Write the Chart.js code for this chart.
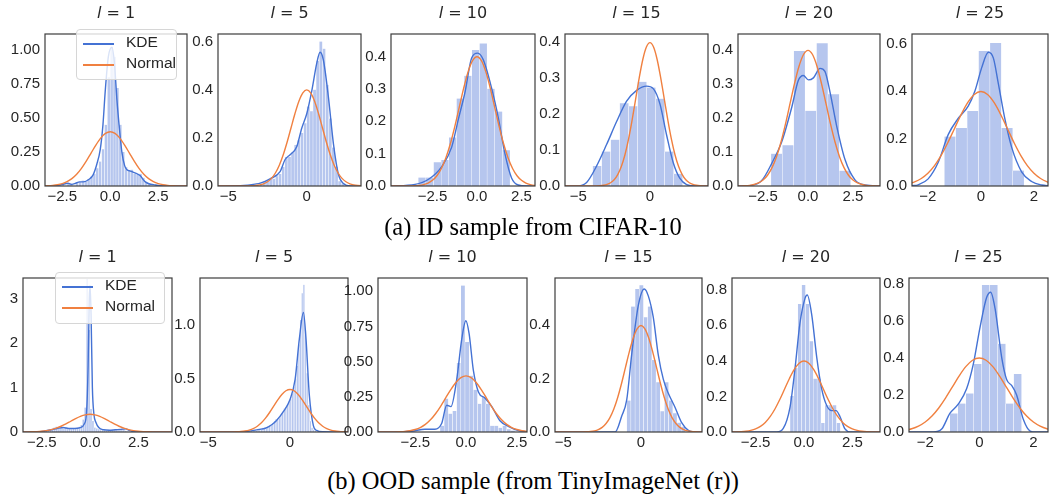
<!DOCTYPE html>
<html>
<head>
<meta charset="utf-8">
<script src="https://cdn.jsdelivr.net/npm/chart.js@4.4.1/dist/chart.umd.min.js"></script>
<style>
  body { margin: 0; background: #fff; }
  #page { position: relative; width: 1049px; height: 495px; overflow: hidden; }
  canvas { position: absolute; }
  .title { position: absolute; font: 16px 'DejaVu Sans', sans-serif; color: #262626; transform: translateX(-50%); white-space: nowrap; }
  .caption { position: absolute; left: 533px; transform: translateX(-50%); white-space: nowrap; font: 24.5px 'Liberation Serif', 'Times New Roman', serif; color: #000; }
  .legend { position: absolute; background: rgba(255,255,255,0.8); border: 1px solid #d6d6d6; border-radius: 4px; font: 15.5px 'Liberation Sans', Arial, sans-serif; color: #262626; }
  .legend div { position: absolute; white-space: nowrap; }
  .legend span { position: absolute; height: 1.5px; width: 31px; }
</style>
</head>
<body>
<div id="page"></div>
<script>
// ---- data ----
const layers = [1, 5, 10, 15, 20, 25];

// standard normal density (the orange curve in every panel)
const normalX = [-6, -5, -4, -3.5, -3.25, -3, -2.75, -2.5, -2.25, -2, -1.75, -1.5, -1.25, -1, -0.75, -0.5, -0.25, 0,
                 0.25, 0.5, 0.75, 1, 1.25, 1.5, 1.75, 2, 2.25, 2.5, 2.75, 3, 3.25, 3.5, 4, 5, 6];
const normalY = [0, 0, 0.0001, 0.0009, 0.002, 0.0044, 0.0091, 0.0175, 0.0317, 0.054, 0.0863, 0.1295, 0.1826, 0.242, 0.3011, 0.3521, 0.3867, 0.3989,
                 0.3867, 0.3521, 0.3011, 0.242, 0.1826, 0.1295, 0.0863, 0.054, 0.0317, 0.0175, 0.0091, 0.0044, 0.002, 0.0009, 0.0001, 0, 0];

// (a) ID sample from CIFAR-10 : histogram = [first edge, bin width], heights ; KDE = [x, y] points
const id1Bins = [-2.7, 0.15];
const id1Hist = [0.01, 0.02, 0.0, 0.02, 0.01, 0.0, 0.03, 0.03, 0.04, 0.03, 0.05, 0.07, 0.09, 0.13, 0.18, 0.27,
                 0.45, 0.80, 1.02, 0.95, 0.72, 0.45, 0.25, 0.14, 0.11, 0.12, 0.09, 0.08, 0.09, 0.06, 0.03, 0.02];
const id1Kde = [[-3.4, 0], [-2.8, 0.003], [-2.5, 0.012], [-2.2, 0.02], [-2.0, 0.012], [-1.8, 0.02], [-1.6, 0.03], [-1.41, 0.03],
                [-1.1, 0.05], [-0.9, 0.08], [-0.7, 0.16], [-0.52, 0.27], [-0.38, 0.45], [-0.26, 0.70], [-0.1, 0.95], [0.09, 1.02],
                [0.22, 0.9], [0.35, 0.63], [0.48, 0.42], [0.61, 0.245], [0.75, 0.15], [0.87, 0.12], [1.05, 0.11], [1.22, 0.10],
                [1.4, 0.09], [1.57, 0.075], [1.7, 0.05], [1.83, 0.03], [2.05, 0.015], [2.25, 0.01], [2.6, 0.002], [4.0, 0]];

const id5Bins = [-3.2, 0.2];
const id5Hist = [0.0, 0.01, 0.02, 0.02, 0.03, 0.03, 0.04, 0.05, 0.08, 0.12, 0.12, 0.14, 0.17, 0.19, 0.22, 0.26,
                 0.33, 0.31, 0.40, 0.52, 0.60, 0.57, 0.42, 0.28, 0.16, 0.08, 0.02, 0.01];
const id5Kde = [[-5.7, 0], [-4, 0.002], [-3.3, 0.008], [-2.97, 0.012], [-2.34, 0.03], [-1.7, 0.06], [-1.38, 0.11], [-1.06, 0.13],
                [-0.64, 0.163], [-0.32, 0.24], [0, 0.30], [0.32, 0.395], [0.64, 0.51], [0.85, 0.555], [1.06, 0.523], [1.38, 0.37],
                [1.70, 0.176], [2.02, 0.048], [2.34, 0.01], [2.8, 0], [3.5, 0]];

const id10Bins = [-3.3, 0.43];
const id10Hist = [0.026, 0.026, 0.073, 0.08, 0.15, 0.27, 0.34, 0.42, 0.44, 0.30, 0.23, 0.11];
const id10Kde = [[-4.85, 0], [-3.48, 0.005], [-2.74, 0.02], [-1.98, 0.06], [-1.42, 0.12], [-1.05, 0.205], [-0.67, 0.29],
                 [-0.30, 0.395], [0.04, 0.41], [0.35, 0.39], [0.83, 0.30], [1.20, 0.21], [1.57, 0.10], [1.95, 0.024],
                 [2.32, 0.003], [2.8, 0], [3.3, 0]];

const id15Bins = [-4.0, 0.628];
const id15Hist = [0.056, 0.096, 0.129, 0.23, 0.222, 0.29, 0.274, 0.243, 0.096, 0.034];
const id15Kde = [[-6, 0], [-5.12, 0], [-4.42, 0.01], [-3.72, 0.056], [-3.02, 0.116], [-2.32, 0.18], [-1.63, 0.236],
                 [-0.93, 0.266], [-0.23, 0.278], [0.23, 0.271], [0.70, 0.228], [1.16, 0.142], [1.63, 0.064],
                 [2.09, 0.021], [2.56, 0.004], [3.2, 0], [4.1, 0]];

const id20Bins = [-2.06, 0.633];
const id20Hist = [0.095, 0.12, 0.397, 0.221, 0.42, 0.27, 0.045];
const id20Kde = [[-3.9, 0], [-3.13, 0.002], [-2.57, 0.016], [-2.02, 0.066], [-1.46, 0.13], [-0.91, 0.23], [-0.54, 0.31],
                 [-0.26, 0.325], [0.02, 0.312], [0.3, 0.318], [0.67, 0.346], [0.94, 0.337], [1.22, 0.277], [1.59, 0.177],
                 [2.06, 0.077], [2.61, 0.018], [3.17, 0.003], [4.0, 0]];

const id25Bins = [-1.38, 0.43];
const id25Hist = [0.209, 0.245, 0.317, 0.57, 0.604, 0.245, 0.065];
const id25Kde = [[-2.6, 0.001], [-2.37, 0.005], [-1.99, 0.03], [-1.61, 0.1], [-1.23, 0.218], [-0.86, 0.285], [-0.48, 0.337],
                 [-0.23, 0.40], [0.03, 0.50], [0.28, 0.565], [0.47, 0.54], [0.65, 0.437], [0.91, 0.28], [1.16, 0.163],
                 [1.54, 0.059], [1.91, 0.019], [2.29, 0.004], [2.6, 0.001]];

// (b) OOD sample (from TinyImageNet (r))
const ood1Bins = [-2.6, 0.1];
const ood1Hist = [0.02, 0.0, 0.02, 0.04, 0.02, 0.05, 0.08, 0.10, 0.12, 0.10, 0.09, 0.11, 0.08, 0.10, 0.07, 0.08, 0.06, 0.09, 0.07,
                  0.10, 0.12, 0.16, 0.28, 0.55, 3.45, 2.30, 0.52, 0.25, 0.10, 0.08, 0.06, 0.04, 0.05, 0.04, 0.03, 0.05, 0.04,
                  0.05, 0.04, 0.06, 0.05, 0.07, 0.08, 0.06, 0.03, 0.01];
const ood1Kde = [[-3.5, 0], [-2.8, 0.005], [-2.4, 0.02], [-2.0, 0.05], [-1.7, 0.08], [-1.4, 0.1], [-1.1, 0.08], [-0.8, 0.08],
                 [-0.5, 0.1], [-0.3, 0.18], [-0.18, 0.45], [-0.1, 1.5], [-0.04, 3.0], [0.0, 3.3], [0.05, 2.7], [0.12, 1.0],
                 [0.2, 0.4], [0.3, 0.22], [0.45, 0.1], [0.7, 0.05], [1.0, 0.04], [1.3, 0.05], [1.6, 0.06], [1.85, 0.07],
                 [2.05, 0.03], [2.3, 0.005], [2.8, 0], [4.3, 0]];

const ood5Bins = [-2.5, 0.1];
const ood5Hist = [0.01, 0.01, 0.02, 0.02, 0.01, 0.03, 0.03, 0.02, 0.04, 0.04, 0.03, 0.05, 0.06, 0.06, 0.08, 0.10, 0.12, 0.11,
                  0.13, 0.16, 0.19, 0.22, 0.23, 0.26, 0.28, 0.31, 0.36, 0.42, 0.50, 0.62, 0.82, 1.05, 1.30, 1.38, 0.95, 0.55,
                  0.25, 0.10, 0.04, 0.02, 0.01, 0.0, 0.01];
const ood5Kde = [[-5.6, 0], [-3.2, 0], [-2.65, 0.005], [-2.04, 0.02], [-1.43, 0.04], [-1.1, 0.07], [-0.81, 0.11], [-0.41, 0.19],
                 [0, 0.305], [0.31, 0.49], [0.57, 0.87], [0.82, 1.12], [0.98, 0.87], [1.18, 0.35], [1.43, 0.06], [1.63, 0.015],
                 [2.0, 0.002], [3.6, 0]];

const ood10Bins = [-1.28, 0.205];
const ood10Hist = [0.044, 0.237, 0.13, 0.15, 0.49, 1.04, 0.64, 0.40, 0.30, 0.20, 0.25, 0.20, 0.044, 0.044, 0.03, 0.044, 0.02, 0.01];
const ood10Kde = [[-4.4, 0], [-3.2, 0.001], [-2.67, 0.005], [-2.02, 0.02], [-1.53, 0.02], [-1.2, 0.06], [-0.95, 0.19],
                  [-0.74, 0.18], [-0.46, 0.37], [-0.21, 0.66], [-0.01, 0.79], [0.15, 0.70], [0.36, 0.44], [0.61, 0.285],
                  [0.94, 0.24], [1.27, 0.18], [1.67, 0.08], [2.08, 0.04], [2.58, 0.01], [3.0, 0.002]];

const ood15Bins = [-0.92, 0.27];
const ood15Hist = [0.118, 0.47, 0.536, 0.55, 0.43, 0.47, 0.27, 0.186, 0.078, 0.186, 0.118, 0.07, 0.035, 0.02];
const ood15Kde = [[-5.6, 0], [-1.67, 0], [-1.24, 0.06], [-0.92, 0.12], [-0.6, 0.29], [-0.17, 0.475], [0.21, 0.536], [0.47, 0.51],
                  [0.79, 0.43], [1.11, 0.29], [1.44, 0.197], [1.76, 0.145], [2.19, 0.093], [2.62, 0.035], [3.05, 0.006],
                  [3.4, 0], [4.0, 0]];

const ood20Bins = [-0.72, 0.2];
const ood20Hist = [0.203, 0.36, 0.72, 0.826, 0.72, 0.51, 0.30, 0.30, 0.05, 0.15, 0.15, 0.15, 0.05];
const ood20Kde = [[-3.8, 0], [-1.41, 0], [-1.07, 0.02], [-0.72, 0.14], [-0.47, 0.35], [-0.21, 0.61], [0.05, 0.75], [0.17, 0.77],
                  [0.4, 0.66], [0.66, 0.42], [0.91, 0.245], [1.17, 0.15], [1.43, 0.12], [1.66, 0.12], [1.86, 0.087],
                  [2.12, 0.017], [2.4, 0], [4.0, 0]];

const ood25Bins = [-1.09, 0.295];
const ood25Hist = [0.10, 0.153, 0.208, 0.367, 0.792, 0.792, 0.475, 0.153, 0.313];
const ood25Kde = [[-2.6, 0], [-1.7, 0], [-1.39, 0.016], [-1.09, 0.1], [-0.78, 0.15], [-0.47, 0.233], [-0.22, 0.367],
                  [0.03, 0.567], [0.27, 0.725], [0.42, 0.753], [0.58, 0.667], [0.83, 0.4], [1.01, 0.283], [1.2, 0.25],
                  [1.38, 0.2], [1.63, 0.067], [1.88, 0.005], [2.1, 0], [2.6, 0]];

const kdeColor = '#4472d4';
const normalColor = '#f08040';
const histColor = 'rgba(80, 118, 215, 0.42)';
const frameColor = '#3c3c3c';
const textColor = '#262626';

// ---- layout: axes box [left, top, right, bottom] + axis limits ----
const panels = [
  { box: [45, 22, 187, 186],   xr: [-3.40, 4.0],  yr: [0, 1.118], xt: [-2.5, 0, 2.5], xd: 1, yt: [0, 0.25, 0.5, 0.75, 1.0], yd: 2, bins: id1Bins, hist: id1Hist, kde: id1Kde, l: layers[0], legend: [76, 29, 175, 78] },
  { box: [218, 22, 361, 186],  xr: [-5.66, 3.46], yr: [0, 0.631], xt: [-5, 0], xd: 0, yt: [0, 0.2, 0.4, 0.6], yd: 1, bins: id5Bins, hist: id5Hist, kde: id5Kde, l: layers[1] },
  { box: [391, 22, 535, 186],  xr: [-4.83, 3.26], yr: [0, 0.469], xt: [-2.5, 0, 2.5], xd: 1, yt: [0, 0.1, 0.2, 0.3, 0.4], yd: 1, bins: id10Bins, hist: id10Hist, kde: id10Kde, l: layers[2] },
  { box: [565, 22, 708, 186],  xr: [-5.93, 4.05], yr: [0, 0.423], xt: [-5, 0], xd: 0, yt: [0, 0.1, 0.2, 0.3, 0.4], yd: 1, bins: id15Bins, hist: id15Hist, kde: id15Kde, l: layers[3] },
  { box: [738, 22, 880, 186],  xr: [-3.89, 4.0],  yr: [0, 0.447], xt: [-2.5, 0, 2.5], xd: 1, yt: [0, 0.1, 0.2, 0.3, 0.4], yd: 1, bins: id20Bins, hist: id20Hist, kde: id20Kde, l: layers[4] },
  { box: [912, 22, 1048, 186], xr: [-2.60, 2.53], yr: [0, 0.642], xt: [-2, 0, 2], xd: 0, yt: [0, 0.2, 0.4, 0.6], yd: 1, bins: id25Bins, hist: id25Hist, kde: id25Kde, l: layers[5] },
  { box: [23, 266, 172, 432],  xr: [-3.47, 4.24], yr: [0, 3.47],  xt: [-2.5, 0, 2.5], xd: 1, yt: [0, 1, 2, 3], yd: 0, bins: ood1Bins, hist: ood1Hist, kde: ood1Kde, l: layers[0], legend: [55, 272, 163, 322] },
  { box: [200, 266, 348, 432], xr: [-5.51, 3.55], yr: [0, 1.443], xt: [-5, 0], xd: 0, yt: [0, 0.5, 1.0], yd: 1, bins: ood5Bins, hist: ood5Hist, kde: ood5Kde, l: layers[1] },
  { box: [378, 266, 527, 432], xr: [-4.33, 3.0],  yr: [0, 1.094], xt: [-2.5, 0, 2.5], xd: 1, yt: [0, 0.25, 0.5, 0.75, 1.0], yd: 2, bins: ood10Bins, hist: ood10Hist, kde: ood10Kde, l: layers[2] },
  { box: [555, 266, 702, 432], xr: [-5.54, 3.93], yr: [0, 0.577], xt: [-5, 0], xd: 0, yt: [0, 0.2, 0.4], yd: 1, bins: ood15Bins, hist: ood15Hist, kde: ood15Kde, l: layers[3] },
  { box: [732, 266, 880, 432], xr: [-3.72, 3.93], yr: [0, 0.866], xt: [-2.5, 0, 2.5], xd: 1, yt: [0, 0.2, 0.4, 0.6, 0.8], yd: 1, bins: ood20Bins, hist: ood20Hist, kde: ood20Kde, l: layers[4] },
  { box: [909, 266, 1048, 432], xr: [-2.60, 2.54], yr: [0, 0.83], xt: [-2, 0, 2], xd: 0, yt: [0, 0.2, 0.4, 0.6, 0.8], yd: 1, bins: ood25Bins, hist: ood25Hist, kde: ood25Kde, l: layers[5] }
];

const PAD_LEFT = 45, PAD_TOP = 2, PAD_RIGHT = 4, PAD_BOTTOM = 26;
const page = document.getElementById('page');

// draw the axes box on top of everything, like matplotlib spines
const framePlugin = {
  id: 'frame',
  afterDraw(chart) {
    const { ctx, chartArea: a } = chart;
    ctx.save();
    ctx.strokeStyle = frameColor;
    ctx.lineWidth = 1.2;
    ctx.strokeRect(a.left, a.top, a.right - a.left, a.bottom - a.top);
    ctx.restore();
  }
};

function fmt(v, d) {
  return v.toFixed(d).replace('-', '\u2212');
}

function createPanel(p) {
  const [bl, bt, br, bb] = p.box;
  const w = br - bl + PAD_LEFT + PAD_RIGHT;
  const h = bb - bt + PAD_TOP + PAD_BOTTOM;

  const canvas = document.createElement('canvas');
  canvas.width = w;
  canvas.height = h;
  canvas.style.left = (bl - PAD_LEFT) + 'px';
  canvas.style.top = (bt - PAD_TOP) + 'px';
  page.appendChild(canvas);

  const [start, width] = p.bins;
  const histData = p.hist.map((v, i) => ({ x: start + (i + 0.5) * width, y: v }));
  const kdeData = p.kde.map(([x, y]) => ({ x, y }));
  const normalData = normalX.map((x, i) => ({ x, y: normalY[i] }));

  new Chart(canvas, {
    type: 'bar',
    data: {
      datasets: [
        { type: 'line', label: 'Normal', data: normalData, borderColor: normalColor, borderWidth: 1.4,
          pointRadius: 0, cubicInterpolationMode: 'monotone', order: 1 },
        { type: 'line', label: 'KDE', data: kdeData, borderColor: kdeColor, borderWidth: 1.4,
          pointRadius: 0, cubicInterpolationMode: 'monotone', order: 2 },
        { type: 'bar', label: 'hist', data: histData, backgroundColor: histColor, borderColor: '#ffffff',
          borderWidth: { left: 0.5, right: 0.5, top: 0, bottom: 0 }, borderSkipped: false,
          barPercentage: 1, categoryPercentage: 1, order: 3 }
      ]
    },
    options: {
      responsive: false,
      animation: false,
      events: [],
      layout: { padding: { left: 0, top: PAD_TOP, right: PAD_RIGHT, bottom: 0 } },
      plugins: { legend: { display: false }, tooltip: { enabled: false } },
      scales: {
        x: {
          type: 'linear', min: p.xr[0], max: p.xr[1], offset: false,
          grid: { display: false, drawTicks: false }, border: { display: false },
          afterBuildTicks: s => { s.ticks = p.xt.map(v => ({ value: v })); },
          afterFit: s => { s.height = PAD_BOTTOM; },
          ticks: { autoSkip: false, maxRotation: 0, padding: 2, color: textColor,
                   font: { family: "'Liberation Sans', Arial, sans-serif", size: 15 },
                   callback: v => fmt(v, p.xd) }
        },
        y: {
          type: 'linear', min: p.yr[0], max: p.yr[1],
          grid: { display: false, drawTicks: false }, border: { display: false },
          afterBuildTicks: s => { s.ticks = p.yt.map(v => ({ value: v })); },
          afterFit: s => { s.width = PAD_LEFT; },
          ticks: { autoSkip: false, padding: 5, color: textColor,
                   font: { family: "'Liberation Sans', Arial, sans-serif", size: 15 },
                   callback: v => fmt(v, p.yd) }
        }
      }
    },
    plugins: [framePlugin]
  });

  const title = document.createElement('div');
  title.className = 'title';
  title.innerHTML = '<i>l</i> = ' + p.l;
  title.style.left = ((bl + br) / 2) + 'px';
  title.style.top = (bt - 19) + 'px';
  page.appendChild(title);

  if (p.legend) {
    const [ll, lt, lr, lb] = p.legend;
    const box = document.createElement('div');
    box.className = 'legend';
    box.style.left = ll + 'px';
    box.style.top = lt + 'px';
    box.style.width = (lr - ll) + 'px';
    box.style.height = (lb - lt) + 'px';
    box.innerHTML =
      '<span style="left:6px;top:13px;background:' + kdeColor + '"></span><div style="left:49px;top:3px">KDE</div>' +
      '<span style="left:6px;top:34px;background:' + normalColor + '"></span><div style="left:49px;top:24px">Normal</div>';
    page.appendChild(box);
  }
}

panels.forEach(createPanel);

const capA = document.createElement('div');
capA.className = 'caption';
capA.style.top = '213px';
capA.textContent = '(a) ID sample from CIFAR-10';
page.appendChild(capA);

const capB = document.createElement('div');
capB.className = 'caption';
capB.style.top = '467px';
capB.textContent = '(b) OOD sample (from TinyImageNet (r))';
page.appendChild(capB);
</script>
</body>
</html>
